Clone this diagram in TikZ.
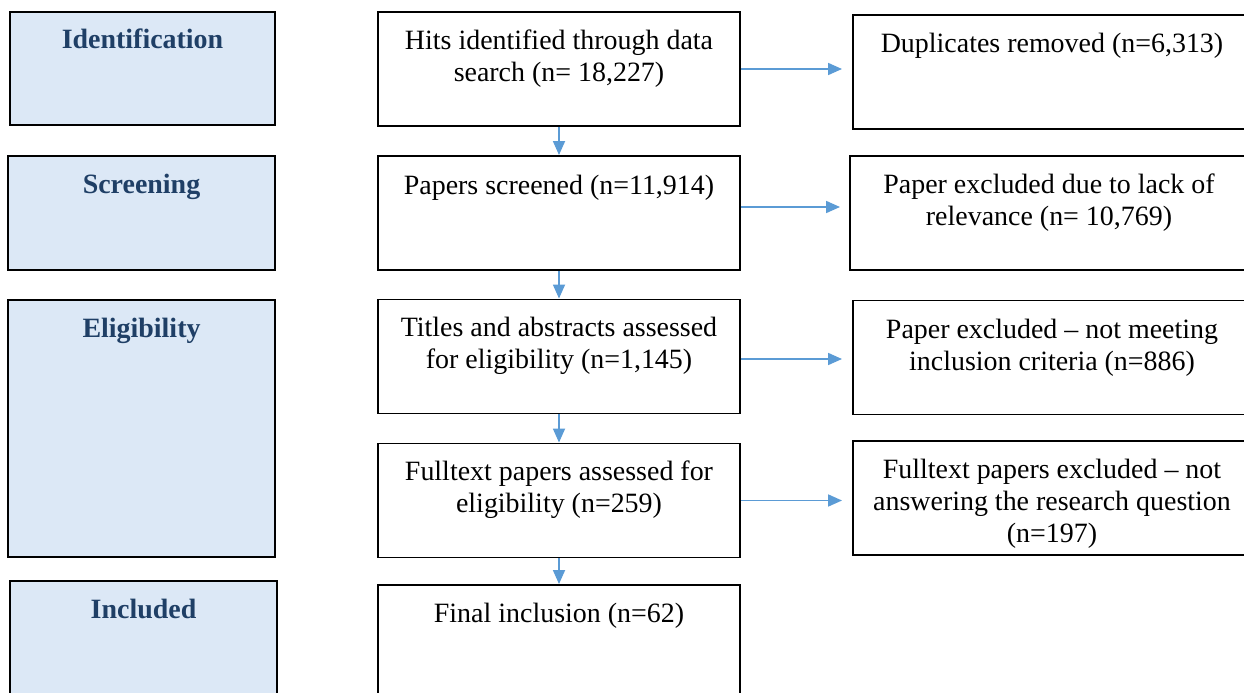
\documentclass[tikz,border=0pt]{standalone}
\usepackage{xcolor}
\usepackage{fontspec}
\setmainfont{Liberation Serif}
\usepackage{tikz}
\usetikzlibrary{arrows.meta,positioning,calc}
\definecolor{phasefill}{HTML}{DCE8F6}
\definecolor{phaseink}{HTML}{1F3F66}
\definecolor{flowblue}{HTML}{5B9BD5}
\newcommand{\boxfont}{\fontsize{15.9}{18.2}\selectfont}
\tikzset{
  phase/.style={draw, line width=1.1pt, fill=phasefill, minimum width=5.34cm,
                minimum height=2.28cm, inner sep=0pt},
  phaselbl/.style={font=\boxfont\bfseries, text=phaseink, anchor=base, inner sep=0pt},
  stage/.style={draw, line width=1.1pt, fill=white, minimum width=7.24cm,
                minimum height=2.28cm, inner sep=0pt},
  excl/.style={stage, minimum width=7.96cm},
  stagetxt/.style={font=\boxfont, align=center, anchor=north, inner sep=0pt,
                   execute at begin node=\strut},
}
\tikzset{
  flow/.style={draw=flowblue, line width=1pt,
               -{Triangle[length=0.28cm, width=0.24cm]}},
}

\begin{document}
\begin{tikzpicture}
    \useasboundingbox (0,0) rectangle (24.88,-13.86);

    % phases on the left
    \node[phase, minimum width=5.3cm, minimum height=2.26cm] (ident) at (2.85,-1.37) {};
    \node[phaselbl] at ([yshift=-0.74cm]ident.north) {Identification};
    \node[phase] (screen) at (2.83,-4.26) {};
    \node[phaselbl] at ([yshift=-0.76cm]screen.north) {Screening};
    \node[phase, minimum height=5.14cm] (elig) at (2.83,-8.57) {};
    \node[phaselbl] at ([yshift=-0.76cm]elig.north) {Eligibility};
    \node[phase] (incl) at (2.87,-12.76) {};
    \node[phaselbl] at ([yshift=-0.76cm]incl.north) {Included};

    % main flow
    \node[stage] (hits) at (11.18,-1.38) {};
    \node[stagetxt] at ([yshift=-0.37cm]hits.north) {Hits identified through data\\search (n= 18,227)};
    \node[stage] (scr) at (11.18,-4.26) {};
    \node[stagetxt] at ([yshift=-0.33cm]scr.north) {Papers screened (n=11,914)};
    \node[stage] (tit) at (11.18,-7.13) {};
    \node[stagetxt] at ([yshift=-0.36cm]tit.north) {Titles and abstracts assessed\\for eligibility (n=1,145)};
    \node[stage] (full) at (11.18,-10.01) {};
    \node[stagetxt] at ([yshift=-0.36cm]full.north) {Fulltext papers assessed for\\eligibility (n=259)};
    \node[stage] (fin) at (11.18,-12.84) {};
    \node[stagetxt] at ([yshift=-0.32cm]fin.north) {Final inclusion (n=62)};

    % exclusions
    \node[excl] (dup) at (21.04,-1.44) {};
    \node[stagetxt] at ([yshift=-0.32cm]dup.north) {Duplicates removed (n=6,313)};
    \node[excl] (rel) at (20.98,-4.26) {};
    \node[stagetxt] at ([yshift=-0.36cm]rel.north) {Paper excluded due to lack of\\relevance (n= 10,769)};
    \node[excl] (crit) at (21.04,-7.15) {};
    \node[stagetxt] at ([yshift=-0.38cm]crit.north) {Paper excluded – not meeting\\inclusion criteria (n=886)};
    \node[excl] (ans) at (21.04,-9.96) {};
    \node[stagetxt] at ([yshift=-0.37cm]ans.north) {Fulltext papers excluded – not\\answering the research question\\(n=197)};

    \draw[flow] (hits) -- (scr);
    \draw[flow] (scr) -- (tit);
    \draw[flow] (tit) -- (full);
    \draw[flow] (full) -- (fin);
    \draw[flow, shorten >=0.2cm] (hits.east) -- (hits.east -| dup.west);
    \draw[flow, shorten >=0.18cm] ([yshift=0.12cm]scr.east) -- ([yshift=0.12cm]scr.east -| rel.west);
    \draw[flow, shorten >=0.2cm] ([yshift=-0.05cm]tit.east) -- ([yshift=-0.05cm]tit.east -| crit.west);
    \draw[flow, shorten >=0.2cm] (full.east) -- (full.east -| ans.west);
  \end{tikzpicture}
\end{document}
